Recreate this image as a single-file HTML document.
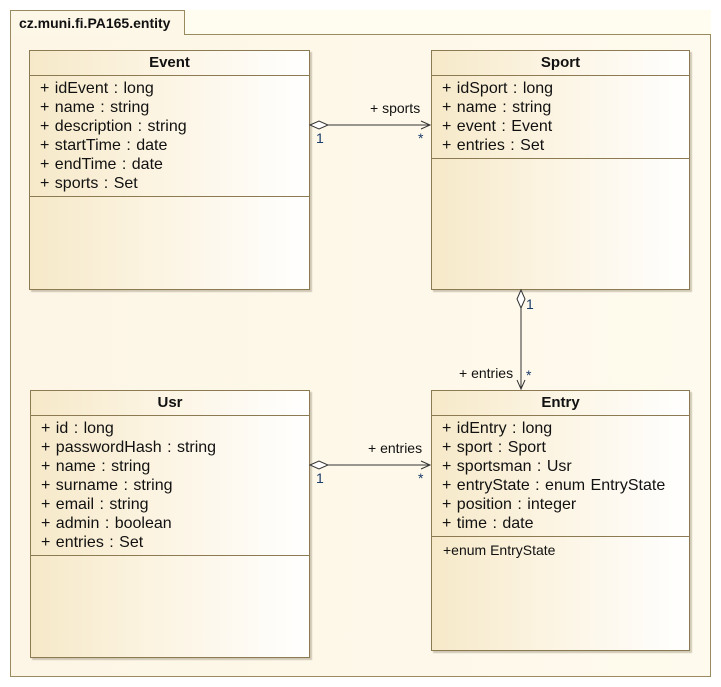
<!DOCTYPE html>
<html><head><meta charset="utf-8"><style>
body{margin:0;width:721px;height:687px;background:#fff;position:relative;overflow:hidden;font-family:"Liberation Sans",Arial,sans-serif;}
.abs{position:absolute;box-sizing:border-box;}
.pkg{left:10px;top:34px;width:701px;height:643px;border:1px solid #9a8a60;background:linear-gradient(90deg,#fdf6e6,#fefaed);}
.tabbg{left:184px;top:10px;width:527px;height:24px;background:#fffdf0;}
.tab{left:10px;top:10px;width:175px;height:25px;border:1px solid #9a8a60;border-bottom:none;background:#fdf7e8;font-weight:bold;font-size:14px;padding:4px 0 0 8px;color:#111;white-space:nowrap;}
.cls{border:1px solid #8c7b52;background:linear-gradient(90deg,#f6e9c9 0%,#fcf4e2 45%,#ffffff 100%);box-shadow:2px 2px 1px rgba(120,110,80,.35);}
.hd{height:24px;border-bottom:1px solid #8c7b52;text-align:center;font-weight:bold;font-size:15px;line-height:23px;color:#111;}
.at{padding:3px 0 0 10px;font-size:16px;line-height:19px;color:#111;word-spacing:1px;white-space:nowrap;}
.sep{position:absolute;left:0;right:0;border-top:1px solid #8c7b52;}
.op{position:absolute;left:11px;font-size:14px;color:#111;white-space:nowrap;}
.lbl{position:absolute;font-size:14px;color:#111;white-space:nowrap;}
.m{position:absolute;font-size:14px;color:#1a3a6a;}
</style></head><body>
<div class="abs tabbg"></div>
<div class="abs pkg"></div>
<div class="abs tab">cz.muni.fi.PA165.entity</div>

<div class="abs cls" style="left:29px;top:50px;width:281px;height:240px;">
<div class="hd">Event</div>
<div class="at">+ idEvent : long<br>+ name : string<br>+ description : string<br>+ startTime : date<br>+ endTime : date<br>+ sports : Set</div>
<div class="sep" style="top:145px"></div>
</div>

<div class="abs cls" style="left:431px;top:50px;width:259px;height:240px;">
<div class="hd">Sport</div>
<div class="at">+ idSport : long<br>+ name : string<br>+ event : Event<br>+ entries : Set</div>
<div class="sep" style="top:107px"></div>
</div>

<div class="abs cls" style="left:30px;top:390px;width:280px;height:268px;">
<div class="hd">Usr</div>
<div class="at">+ id : long<br>+ passwordHash : string<br>+ name : string<br>+ surname : string<br>+ email : string<br>+ admin : boolean<br>+ entries : Set</div>
<div class="sep" style="top:164px"></div>
</div>

<div class="abs cls" style="left:431px;top:390px;width:259px;height:261px;">
<div class="hd">Entry</div>
<div class="at">+ idEntry : long<br>+ sport : Sport<br>+ sportsman : Usr<br>+ entryState : enum EntryState<br>+ position : integer<br>+ time : date</div>
<div class="sep" style="top:145px"></div>
<div class="op" style="top:151px">+enum EntryState</div>
</div>

<svg class="abs" style="left:0;top:0" width="721" height="687">
<g stroke="#333" stroke-width="1" fill="none">
<path d="M310 125 L430 125"/><path d="M310 125 L319 121 L328 125 L319 129 Z" fill="#fff"/><path d="M421 121 L430 125 L421 129"/>
<path d="M310 465 L430 465"/><path d="M310 465 L319 461 L328 465 L319 469 Z" fill="#fff"/><path d="M421 461 L430 465 L421 469"/>
<path d="M521 290 L521 389"/><path d="M521 290 L517 299 L521 308 L525 299 Z" fill="#fff"/><path d="M517 380 L521 389 L525 380"/>
</g>
</svg>
<div class="lbl" style="left:370px;top:100px">+ sports</div>
<div class="m" style="left:316px;top:130px">1</div>
<div class="m" style="left:418px;top:130px">*</div>
<div class="lbl" style="left:368px;top:440px">+ entries</div>
<div class="m" style="left:316px;top:470px">1</div>
<div class="m" style="left:418px;top:470px">*</div>
<div class="m" style="left:526px;top:296px">1</div>
<div class="lbl" style="left:459px;top:365px">+ entries</div>
<div class="m" style="left:526px;top:367px">*</div>
</body></html>
